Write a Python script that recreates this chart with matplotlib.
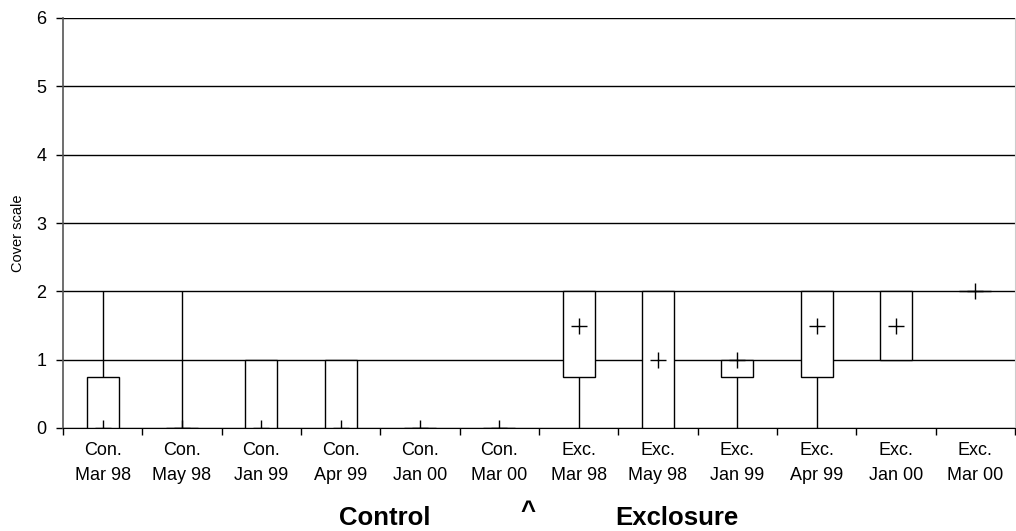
import matplotlib.pyplot as plt
from matplotlib.ticker import FixedLocator

plt.rcParams['font.family'] = ['Liberation Sans', 'DejaVu Sans']

labels = ['Con.\nMar 98', 'Con.\nMay 98', 'Con.\nJan 99', 'Con.\nApr 99', 'Con.\nJan 00', 'Con.\nMar 00',
          'Exc.\nMar 98', 'Exc.\nMay 98', 'Exc.\nJan 99', 'Exc.\nApr 99', 'Exc.\nJan 00', 'Exc.\nMar 00']
lows = [0, 0, 0, 0, 0, 0, 0, 0, 0, 0, 1, 2]
q1 = [0, 0, 0, 0, 0, 0, 0.75, 0, 0.75, 0.75, 1, 2]
q3 = [0.75, 0, 1, 1, 0, 0, 2, 2, 1, 2, 2, 2]
highs = [2, 2, 1, 1, 0, 0, 2, 2, 1, 2, 2, 2]
means = [0, 0, 0, 0, 0, 0, 1.5, 1.0, 1.0, 1.5, 1.5, 2]

fig = plt.figure(figsize=(10.16, 5.31), dpi=100)
ax = fig.add_axes([63 / 1016, 103 / 531, 952 / 1016, 410 / 531])

x = [i + 0.5 for i in range(len(labels))]

# high-low lines, then the white boxes over them, then the means
ax.vlines(x, lows, highs, color='black', lw=1, zorder=3)
heights = [b - a for a, b in zip(q1, q3)]
ax.bar(x, heights, bottom=q1, width=0.4, color='white', edgecolor='black', lw=1, zorder=4)
ax.plot(x, means, linestyle='none', marker='+', color='black', markersize=11, mew=1, zorder=5)

ax.set_xlim(0, 12)
ax.set_ylim(0, 6)
ax.set_yticks(range(7))
ax.yaxis.grid(True, color='black', lw=1)
ax.set_axisbelow(True)

ax.xaxis.set_major_locator(FixedLocator(range(13)))
ax.xaxis.set_minor_locator(FixedLocator(x))
ax.set_xticklabels([], minor=False)
ax.set_xticklabels(labels, minor=True, fontsize=13, linespacing=1.6)
ax.tick_params(axis='x', which='major', direction='out', length=5, width=1)
ax.tick_params(axis='x', which='minor', length=0, pad=10)
ax.tick_params(axis='y', direction='out', length=5, width=1, labelsize=13, pad=7)

ax.spines['top'].set_visible(False)
ax.spines['right'].set_color('#cccccc')
ax.spines['left'].set_color('#555555')
ax.spines['left'].set_linewidth(1.2)
ax.spines['bottom'].set_color('black')

ax.set_ylabel('Cover scale', fontsize=10.5)
ax.yaxis.set_label_coords(-38 / 952, 0.475)

fig.text(385 / 1016, 1 - 518 / 531, 'Control', fontsize=18.5, fontweight='bold', ha='center', va='center')
fig.text(528 / 1016, 1 - 512 / 531, '^', fontsize=18.5, fontweight='bold', ha='center', va='center')
fig.text(677 / 1016, 1 - 518 / 531, 'Exclosure', fontsize=18.5, fontweight='bold', ha='center', va='center')

fig.savefig('out.png', dpi=100)
